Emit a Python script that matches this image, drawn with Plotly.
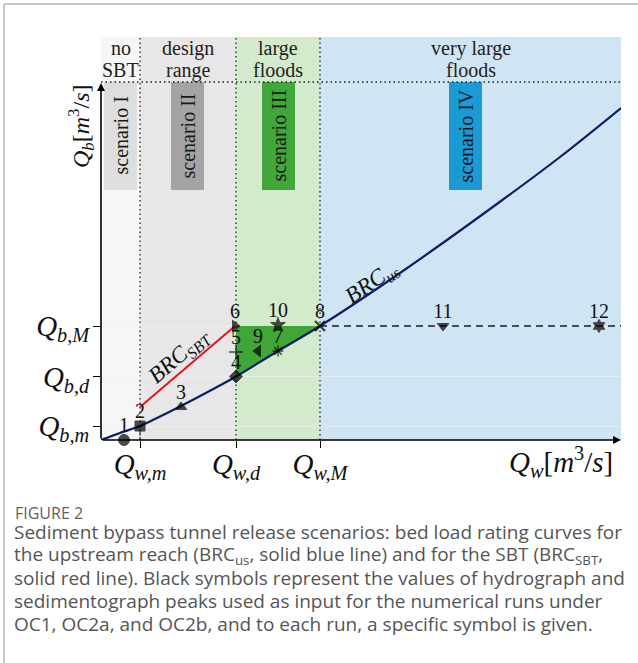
import plotly.graph_objects as go

# ---- data (arbitrary units) ----
Qw_m, Qw_d, Qw_M, Qw_max = 39, 135, 219, 520
Qb_m, Qb_d, Qb_M, Qb_top = 14, 63.5, 114, 403
Q_sep = 358  # level of the dotted line under the regime labels

regime_top = ["no", "design", "large", "very large"]
regime_bottom = ["SBT", "range", "floods", "floods"]
regime_edges = [0, Qw_m, Qw_d, Qw_M, Qw_max]
regime_colors = ["#f6f6f6", "#e7e7e7", "#d3eacc", "#cfe5f4"]

scenario_labels = ["scenario I", "scenario II", "scenario III", "scenario IV"]
scenario_x0 = [3, 70, 161, 348]
scenario_x1 = [36, 103, 194, 381]
scenario_colors = ["#dedede", "#a4a4a4", "#42a73a", "#1b9ad6"]

brc_us_x = [0, 19, 39, 56, 80, 116, 135, 177, 219, 299, 400, 459, 520]
brc_us_y = [0, 7, 14, 22, 34, 53, 63.5, 89, 114, 167, 239, 283, 332]
brc_sbt_x = [Qw_m, 134]
brc_sbt_y = [33, Qb_M]

run_ids = ["1", "2", "3", "4", "5", "6", "7", "8", "9", "10", "11", "12"]
run_x = [23, 39, 80, 135, 135, 134, 177, 219, 157, 177, 342, 498]
run_y = [0, 14, 33, 63.5, 88, 114, 89, 114, 89, 115, 114, 114]
run_symbols = ["circle", "square", "triangle-up", "diamond", "cross-thin",
               "triangle-right", "asterisk-open", "x-thin", "triangle-left",
               "star", "triangle-down", "hexagram"]
run_sizes = [11, 10, 10, 10, 10, 10, 9, 10, 10, 11, 10, 10]
run_lw = [1, 1, 1, 1, 1.4, 1, 1.4, 2.4, 1, 1, 1, 1]

xtick_vals = [Qw_m, Qw_d, Qw_M]
xtick_text = ["<i>Q</i><sub><i>w,m</i></sub>", "<i>Q</i><sub><i>w,d</i></sub>",
              "<i>Q</i><sub><i>w,M</i></sub>"]
ytick_vals = [Qb_m, Qb_d, Qb_M]
ytick_text = ["<i>Q</i><sub><i>b,m</i></sub>", "<i>Q</i><sub><i>b,d</i></sub>",
              "<i>Q</i><sub><i>b,M</i></sub>"]

caption_title = "FIGURE 2"
caption_lines = [
    "Sediment bypass tunnel release scenarios: bed load rating curves for",
    "the upstream reach (BRC<sub>us</sub>, solid blue line) and for the SBT (BRC<sub>SBT</sub>,",
    "solid red line). Black symbols represent the values of hydrograph and",
    "sedimentograph peaks used as input for the numerical runs under",
    "OC1, OC2a, and OC2b, and to each run, a specific symbol is given.",
]

# ---- layout geometry (pixels) ----
W, H = 638, 663
L, R, T, B = 101, 17, 37, 223
PW, PH = W - L - R, H - T - B
LABEL_DY = 13  # label offset above markers (px == data units here)


def px_x(px):
    return (px - L) / PW


def px_y(py):
    return (H - B - py) / PH


SERIF = "Liberation Serif"
fig = go.Figure()

# green region between BRC_us and Qb_M within large floods
seg = [(x, y) for x, y in zip(brc_us_x, brc_us_y) if Qw_d <= x <= Qw_M]
gx = [Qw_d] + [p[0] for p in seg] + [Qw_d]
gy = [Qb_M] + [p[1] for p in seg] + [Qb_M]
fig.add_trace(go.Scatter(x=gx, y=gy, fill="toself", fillcolor="#3fa637",
                         line=dict(width=0, color="#3fa637"), mode="lines",
                         hoverinfo="skip", showlegend=False))

# dashed Qb_M line in very large floods
fig.add_trace(go.Scatter(x=[Qw_M, Qw_max], y=[Qb_M, Qb_M], mode="lines",
                         line=dict(color="#3f4d66", width=1.8, dash="7px,5px"),
                         showlegend=False))
# short dashed drop at Qw_m
fig.add_trace(go.Scatter(x=[Qw_m, Qw_m], y=[0, Qb_m], mode="lines",
                         line=dict(color="#3f4d66", width=1.5, dash="3px,3px"),
                         showlegend=False))

fig.add_trace(go.Scatter(x=brc_us_x, y=brc_us_y, mode="lines", line_shape="spline",
                         line=dict(color="#0c1f66", width=2.2), showlegend=False))
fig.add_trace(go.Scatter(x=brc_sbt_x, y=brc_sbt_y, mode="lines",
                         line=dict(color="#e8141b", width=2), showlegend=False))

fig.add_trace(go.Scatter(
    x=run_x, y=run_y, mode="markers",
    marker=dict(symbol=run_symbols, size=run_sizes, color="black",
                line=dict(color="black", width=run_lw)),
    cliponaxis=False, showlegend=False))
fig.add_trace(go.Scatter(
    x=run_x, y=[v + LABEL_DY for v in run_y], mode="text", text=run_ids,
    textposition="middle center",
    textfont=dict(family=SERIF, size=20, color="#111"),
    cliponaxis=False, showlegend=False))

shapes = []
for i in range(4):
    shapes.append(dict(type="rect", xref="x", yref="y", x0=regime_edges[i], x1=regime_edges[i + 1],
                       y0=0, y1=Qb_top, fillcolor=regime_colors[i], line_width=0, layer="below"))
for i in range(4):
    shapes.append(dict(type="rect", xref="x", yref="y", x0=scenario_x0[i], x1=scenario_x1[i],
                       y0=250, y1=Q_sep, fillcolor=scenario_colors[i], line_width=0, layer="below"))
for xv in [Qw_m, Qw_d, Qw_M]:
    shapes.append(dict(type="line", xref="x", yref="y", x0=xv, x1=xv, y0=0, y1=Qb_top,
                       line=dict(color="#222", width=1.3, dash="1.5px,3px"), layer="below"))
shapes.append(dict(type="line", xref="x", yref="y", x0=0, x1=Qw_max, y0=Q_sep, y1=Q_sep,
                   line=dict(color="#222", width=1.3, dash="1.5px,3px"), layer="below"))
# page frame
shapes.append(dict(type="line", xref="paper", yref="paper", x0=px_x(4), x1=px_x(W), y0=px_y(4), y1=px_y(4),
                   line=dict(color="#b4b4b4", width=1.5)))
shapes.append(dict(type="line", xref="paper", yref="paper", x0=px_x(4), x1=px_x(4), y0=px_y(4), y1=px_y(H),
                   line=dict(color="#b4b4b4", width=1.5)))

ann = []
for i in range(4):
    xc = (regime_edges[i] + regime_edges[i + 1]) / 2
    for txt, py in ((regime_top[i], 48), (regime_bottom[i], 70)):
        ann.append(dict(x=xc, y=px_y(py), xref="x", yref="paper",
                        xanchor="center", yanchor="middle", text=txt, showarrow=False,
                        font=dict(family=SERIF, size=20, color="#222")))
for i in range(4):
    ann.append(dict(x=(scenario_x0[i] + scenario_x1[i]) / 2, y=(250 + Q_sep) / 2, xref="x", yref="y",
                    xanchor="center", yanchor="middle",
                    text=scenario_labels[i], textangle=-90, showarrow=False,
                    font=dict(family=SERIF, size=20, color="#1a1a1a")))
# axes arrows
ann.append(dict(x=Qw_max, y=0, ax=0, ay=0, xref="x", yref="y", axref="x", ayref="y", text="",
                showarrow=True, arrowhead=2, arrowsize=1, arrowwidth=1.6, arrowcolor="black"))
ann.append(dict(x=0, y=357, ax=0, ay=0, xref="x", yref="y", axref="x", ayref="y", text="",
                showarrow=True, arrowhead=2, arrowsize=1, arrowwidth=1.6, arrowcolor="black"))
# axis titles
ann.append(dict(x=px_x(81), y=px_y(127), xref="paper", yref="paper", textangle=-90, showarrow=False,
                xanchor="center", yanchor="middle",
                text="<i>Q</i><sub><i>b</i></sub>[<i>m</i><sup>3</sup>/<i>s</i>]",
                font=dict(family=SERIF, size=24, color="#111")))
ann.append(dict(x=px_x(561), y=px_y(462), xref="paper", yref="paper", showarrow=False,
                xanchor="center", yanchor="middle",
                text="<i>Q</i><sub><i>w</i></sub>[<i>m</i><sup>3</sup>/<i>s</i>]",
                font=dict(family=SERIF, size=29, color="#111")))
# curve labels
ann.append(dict(x=px_x(179), y=px_y(357), xref="paper", yref="paper", textangle=-41, showarrow=False,
                xanchor="center", yanchor="middle",
                text="<i>BRC</i><sub><i>SBT</i></sub>", font=dict(family=SERIF, size=23, color="#111")))
ann.append(dict(x=px_x(372), y=px_y(283), xref="paper", yref="paper", textangle=-35, showarrow=False,
                xanchor="center", yanchor="middle",
                text="<i>BRC</i><sub><i>us</i></sub>", font=dict(family=SERIF, size=23, color="#111")))
# caption
ann.append(dict(x=px_x(14), y=px_y(513), xref="paper", yref="paper", xanchor="left", yanchor="middle",
                showarrow=False, text=caption_title, height=16, borderpad=0,
                font=dict(family="Open Sans", size=16, color="#5f5f5f")))
for k, line in enumerate(caption_lines):
    ann.append(dict(x=px_x(13), y=px_y(532 + 23 * k), xref="paper", yref="paper", xanchor="left",
                    yanchor="middle", showarrow=False, text=line, height=22, borderpad=0,
                    font=dict(family="Open Sans", size=19, color="#555")))

fig.update_layout(
    width=W, height=H, margin=dict(l=L, r=R, t=T, b=B, autoexpand=False),
    paper_bgcolor="white", plot_bgcolor="white", showlegend=False,
    shapes=shapes, annotations=ann,
    xaxis=dict(range=[0, Qw_max], tickvals=xtick_vals, ticktext=xtick_text, ticks="outside",
               ticklen=7, tickwidth=1.3, tickcolor="black", showgrid=False, zeroline=False,
               showline=False, ticklabelstandoff=-9,
               tickfont=dict(family=SERIF, size=29, color="#111")),
    yaxis=dict(range=[0, Qb_top], tickvals=ytick_vals, ticktext=ytick_text, ticks="outside",
               ticklen=7, tickwidth=1.3, tickcolor="black", showgrid=True, ticklabelstandoff=-2,
               gridcolor="rgba(240,240,240,0.7)", gridwidth=1, zeroline=False,
               showline=False, tickfont=dict(family=SERIF, size=29, color="#111")),
)

fig.write_html("out.html", config={"displayModeBar": False},
               post_script="document.body.style.margin='0px';")
